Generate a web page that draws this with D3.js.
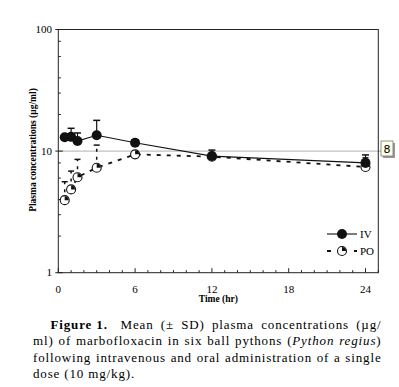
<!DOCTYPE html>
<html>
<head>
<meta charset="utf-8">
<script src="https://cdn.jsdelivr.net/npm/d3@7"></script>
<style>
  body { margin: 0; background: #fff; }
  text { font-family: "Liberation Serif", "Times New Roman", serif; }
</style>
</head>
<body>
<div class="chart"></div>
<script>
// data
var times = [0.5, 1, 1.5, 3, 6, 12, 24];
var ivMean = [13.0, 13.1, 12.1, 13.5, 11.7, 9.1, 8.0];
var ivUpper = [13.6, 15.4, 14.1, 17.9, 12.4, 10.2, 9.3];
var poMean = [3.95, 4.84, 6.1, 7.3, 9.4, 9.0, 7.4];
var poUpper = [5.6, 6.85, 8.55, 11.2, 9.9, 9.6, 8.8];
var xTicks = [0, 6, 12, 18, 24];
var xMinor = d3.range(0, 26, 1);
var yTicks = [1, 10, 100];
var yMinor = [2, 3, 4, 6, 8, 20, 30, 40, 60, 80];

var svgWidth = 399;
var svgHeight = 387;

var svg = d3.select(".chart")
  .append("svg")
  .attr("width", svgWidth)
  .attr("height", svgHeight);

var x = d3.scaleLinear().domain([0, 25]).range([58.3, 378.3]);
var y = d3.scaleLog().domain([1, 100]).range([272.7, 29.5]);

// reference line at 10 (gray) and the little page marker box
svg.append("line")
  .attr("x1", x(0)).attr("x2", 381)
  .attr("y1", y(10)).attr("y2", y(10))
  .attr("stroke", "#b0b0b0").attr("stroke-width", 1);

svg.append("rect")
  .attr("x", 383).attr("y", 143).attr("width", 12).attr("height", 15)
  .attr("fill", "#999");
svg.append("rect")
  .attr("x", 381).attr("y", 141).attr("width", 12).attr("height", 15)
  .attr("fill", "#ffffe6").attr("stroke", "#777").attr("stroke-width", 0.8);
svg.append("text")
  .attr("x", 387).attr("y", 153)
  .attr("text-anchor", "middle")
  .style("font-family", "'DejaVu Sans', sans-serif")
  .style("font-size", "11px")
  .text("8");

// frame
svg.append("rect")
  .attr("x", x(0)).attr("y", y(100))
  .attr("width", x(25) - x(0)).attr("height", y(1) - y(100))
  .attr("fill", "none").attr("stroke", "#222").attr("stroke-width", 1);

// x axis ticks (pointing inward)
var xAxis = svg.append("g");
xAxis.selectAll("line.minor")
  .data(xMinor)
  .enter()
  .append("line")
  .attr("x1", d => x(d)).attr("x2", d => x(d))
  .attr("y1", y(1)).attr("y2", d => y(1) - (d % 6 === 0 ? 4.5 : 2.5))
  .attr("stroke", "#222");
xAxis.selectAll("text")
  .data(xTicks)
  .enter()
  .append("text")
  .attr("x", d => x(d))
  .attr("y", 293)
  .attr("text-anchor", "middle")
  .style("font-size", "11px")
  .text(d => d);

svg.append("text")
  .attr("x", (x(0) + x(25)) / 2)
  .attr("y", 302)
  .attr("text-anchor", "middle")
  .style("font-size", "9.5px")
  .style("font-weight", "bold")
  .text("Time (hr)");

// y axis ticks
var yAxis = svg.append("g");
yAxis.selectAll("line.minor")
  .data(yMinor)
  .enter()
  .append("line")
  .attr("x1", x(0)).attr("x2", x(0) + 2.5)
  .attr("y1", d => y(d)).attr("y2", d => y(d))
  .attr("stroke", "#222");
yAxis.selectAll("line.major")
  .data(yTicks)
  .enter()
  .append("line")
  .attr("x1", x(0) - 3).attr("x2", x(0) + 4.5)
  .attr("y1", d => y(d)).attr("y2", d => y(d))
  .attr("stroke", "#222");
yAxis.selectAll("text")
  .data(yTicks)
  .enter()
  .append("text")
  .attr("x", 52)
  .attr("y", d => y(d) + 3.5)
  .attr("text-anchor", "end")
  .style("font-size", "11px")
  .text(d => d);

svg.append("text")
  .attr("transform", `translate(36, 150) rotate(-90)`)
  .attr("text-anchor", "middle")
  .style("font-size", "9.5px")
  .style("font-weight", "bold")
  .text("Plasma concentrations (\u00b5g/ml)");

var iv = times.map((t, i) => ({t: t, m: ivMean[i], u: ivUpper[i]}));
var po = times.map((t, i) => ({t: t, m: poMean[i], u: poUpper[i]}));

var line = d3.line().x(d => x(d.t)).y(d => y(d.m));

// PO series (dashed)
svg.append("g").selectAll("line")
  .data(po)
  .enter()
  .append("line")
  .attr("x1", d => x(d.t)).attr("x2", d => x(d.t))
  .attr("y1", d => y(d.m)).attr("y2", d => y(d.u))
  .attr("stroke", "#111").attr("stroke-width", 1.5)
  .attr("stroke-dasharray", "3,5");
svg.append("g").selectAll("line")
  .data(po)
  .enter()
  .append("line")
  .attr("x1", d => x(d.t) - 3).attr("x2", d => x(d.t) + 3)
  .attr("y1", d => y(d.u)).attr("y2", d => y(d.u))
  .attr("stroke", "#111").attr("stroke-width", 1.5);
svg.append("path")
  .datum(po)
  .attr("d", line)
  .attr("fill", "none")
  .attr("stroke", "#111")
  .attr("stroke-width", 1.8)
  .attr("stroke-dasharray", "4,6");

var wedge = d3.arc().innerRadius(0).outerRadius(4).startAngle(0).endAngle(Math.PI / 2);

function poMarker(g, cx, cy) {
  g.append("circle")
    .attr("cx", cx).attr("cy", cy).attr("r", 4.5)
    .attr("fill", "#fff").attr("stroke", "#111").attr("stroke-width", 1.1);
  g.append("path")
    .attr("transform", `translate(${cx}, ${cy})`)
    .attr("d", wedge())
    .attr("fill", "#111");
}

var poG = svg.append("g");
po.forEach(d => poMarker(poG, x(d.t), y(d.m)));

// IV series (solid)
svg.append("g").selectAll("line")
  .data(iv)
  .enter()
  .append("line")
  .attr("x1", d => x(d.t)).attr("x2", d => x(d.t))
  .attr("y1", d => y(d.m)).attr("y2", d => y(d.u))
  .attr("stroke", "#111").attr("stroke-width", 1.2);
svg.append("g").selectAll("line")
  .data(iv)
  .enter()
  .append("line")
  .attr("x1", d => x(d.t) - 3.5).attr("x2", d => x(d.t) + 3.5)
  .attr("y1", d => y(d.u)).attr("y2", d => y(d.u))
  .attr("stroke", "#111").attr("stroke-width", 1.5);
svg.append("path")
  .datum(iv)
  .attr("d", line)
  .attr("fill", "none")
  .attr("stroke", "#111")
  .attr("stroke-width", 1.1);
svg.append("g").selectAll("circle")
  .data(iv)
  .enter()
  .append("circle")
  .attr("cx", d => x(d.t)).attr("cy", d => y(d.m))
  .attr("r", 5)
  .attr("fill", "#111");

// legend
var legend = svg.append("g");
legend.append("line")
  .attr("x1", 327).attr("x2", 357).attr("y1", 234).attr("y2", 234)
  .attr("stroke", "#111").attr("stroke-width", 1.1);
legend.append("circle")
  .attr("cx", 342).attr("cy", 234).attr("r", 5).attr("fill", "#111");
legend.append("text")
  .attr("x", 360).attr("y", 238)
  .style("font-size", "11px")
  .text("IV");
legend.append("line")
  .attr("x1", 327).attr("x2", 357).attr("y1", 251).attr("y2", 251)
  .attr("stroke", "#111").attr("stroke-width", 1.8)
  .attr("stroke-dasharray", "4,9.5");
poMarker(legend, 342, 251);
legend.append("text")
  .attr("x", 360).attr("y", 255)
  .style("font-size", "11px")
  .text("PO");

// caption, justified by stretching the word gaps
var cap = svg.append("g")
  .style("font-size", "13px")
  .style("letter-spacing", "0.85px");

function justify(t, width) {
  var natural = t.node().getComputedTextLength();
  var spaces = (t.text().match(/ /g) || []).length;
  if (spaces > 0) t.style("word-spacing", ((width - natural) / spaces) + "px");
}

cap.append("text").attr("x", 50.5).attr("y", 328.5)
  .style("font-weight", "bold")
  .text("Figure 1.");
var l1 = cap.append("text").attr("x", 120.5).attr("y", 328.5)
  .text("Mean (\u00b1 SD) plasma concentrations (\u00b5g/");
justify(l1, 261);

var l2 = cap.append("text").attr("x", 33).attr("y", 345);
l2.append("tspan").text("ml) of marbofloxacin in six ball pythons (");
l2.append("tspan").style("font-style", "italic").text("Python regius");
l2.append("tspan").text(")");
justify(l2, 348.5);

var l3 = cap.append("text").attr("x", 33).attr("y", 361.5)
  .text("following intravenous and oral administration of a single");
justify(l3, 348.5);

cap.append("text")
  .attr("x", 33).attr("y", 378)
  .text("dose (10 mg/kg).");
</script>
</body>
</html>
